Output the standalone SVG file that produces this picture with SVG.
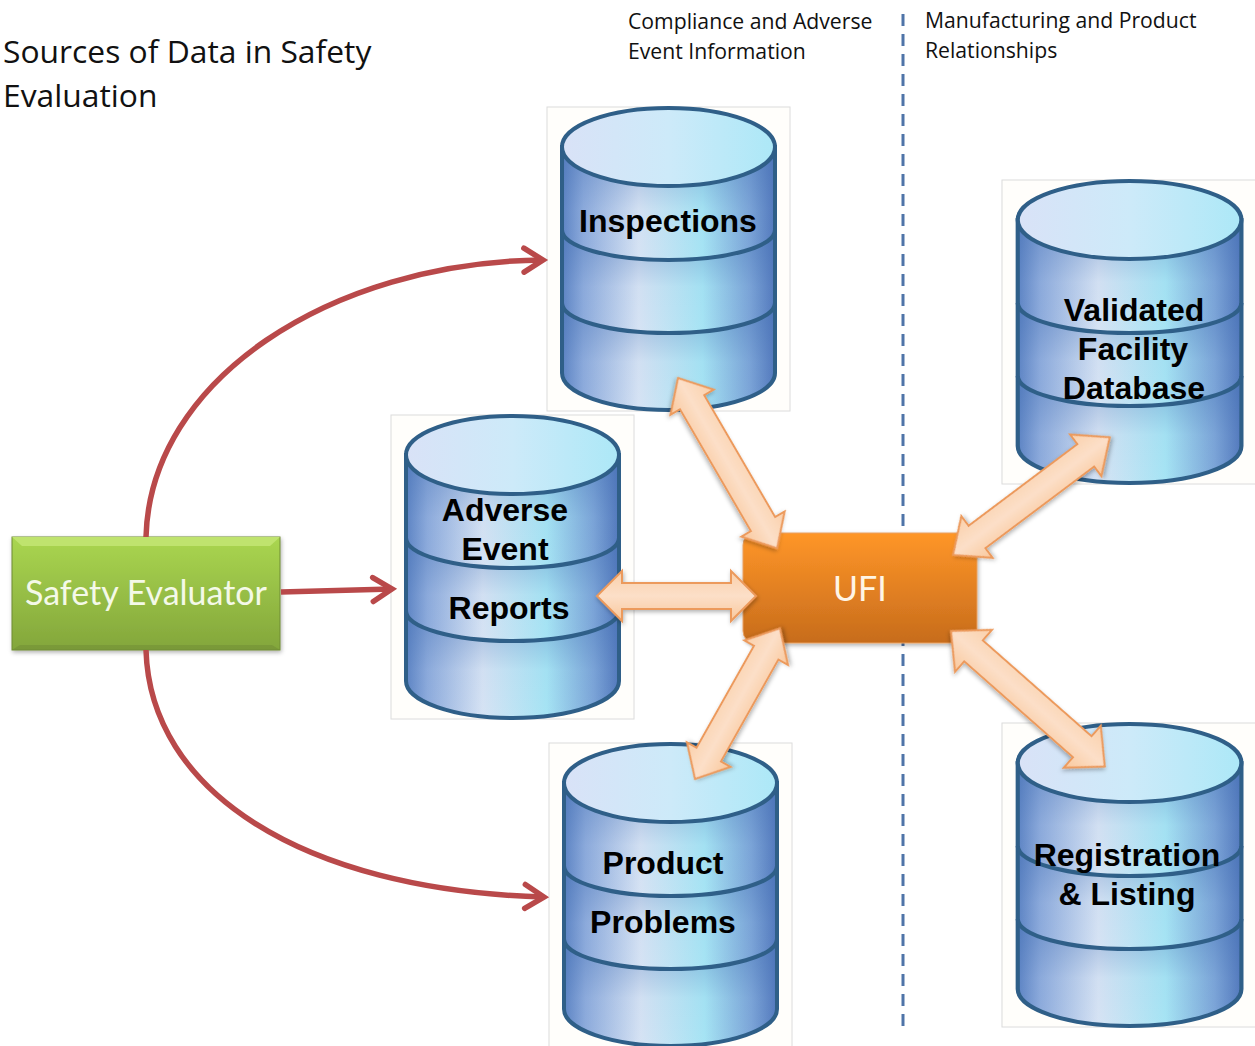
<svg xmlns="http://www.w3.org/2000/svg" width="1255" height="1046" viewBox="0 0 1255 1046">
<style>
.frame{fill:#fffefb;stroke:#dcdcdc;stroke-width:1}
.wall{stroke:#2f5f88;stroke-width:4;fill:url(#body)}
.band{fill:none;stroke:#2f5f88;stroke-width:4}
.lid{fill:url(#lid);stroke:#2f5f88;stroke-width:4}
.db{font:bold 32px "Liberation Sans",Arial,sans-serif;fill:#000;text-anchor:middle}
.head{font:31.800px "Open Sans","Noto Sans",sans-serif;fill:#111}
.note{font:21.2px "Open Sans","Noto Sans",sans-serif;fill:#111}
.box{font:34px Lato,"Open Sans",sans-serif;fill:#f4f9e8;text-anchor:middle}
.red{fill:none;stroke:#b9494a;stroke-width:5.500;marker-end:url(#open)}
.dbl{fill:url(#peach);stroke:#ec9a5c;stroke-width:2;stroke-linejoin:miter;filter:url(#sh)}
</style>
<defs>
<linearGradient id="body" x1="0" x2="1" y1="0" y2="0">
<stop offset="0" stop-color="#5d84c4"/><stop offset=".1" stop-color="#8dabdc"/><stop offset=".36" stop-color="#d6e3f4"/><stop offset=".66" stop-color="#a6e4f4"/><stop offset=".88" stop-color="#7ca5d8"/><stop offset="1" stop-color="#5379bd"/>
</linearGradient>
<linearGradient id="lid" x1="0" x2="1" y1="0" y2="0">
<stop offset="0" stop-color="#d9e2f7"/><stop offset=".5" stop-color="#cdeaf9"/><stop offset="1" stop-color="#ace8f7"/>
</linearGradient>
<linearGradient id="shade" x1="0" x2="0" y1="0" y2="1">
<stop offset="0" stop-color="#3f6bb0" stop-opacity=".42"/><stop offset=".55" stop-color="#3f6bb0" stop-opacity=".03"/><stop offset="1" stop-color="#3f6bb0" stop-opacity="0"/>
</linearGradient>
<linearGradient id="peach" x1="0" x2="0" y1="0" y2="1">
<stop offset="0" stop-color="#fad0aa"/><stop offset=".5" stop-color="#fcdfc8"/><stop offset="1" stop-color="#f9c89c"/>
</linearGradient>
<linearGradient id="orange" x1="0" x2="0" y1="0" y2="1">
<stop offset="0" stop-color="#ff9628"/><stop offset="1" stop-color="#c76c1c"/>
</linearGradient>
<linearGradient id="green" x1="0" x2="0" y1="0" y2="1">
<stop offset="0" stop-color="#aad650"/><stop offset="1" stop-color="#83a63b"/>
</linearGradient>
<filter id="sh" x="-20%" y="-20%" width="140%" height="140%"><feDropShadow dx="1" dy="2" stdDeviation="2" flood-color="#000" flood-opacity=".3"/></filter>
<marker id="open" markerUnits="userSpaceOnUse" markerWidth="34" markerHeight="34" refX="26" refY="17" orient="auto">
<path d="M7 5L26 17L7 29" fill="none" stroke="#b9494a" stroke-width="5.500" stroke-linecap="round"/>
</marker>
<g id="cyl">
<rect class="frame" x="0" y="0" width="243" height="304"/>
<path class="wall" d="M15 40V266A106.500 37 0 0 0 228 266V40Z"/>
<path fill="url(#shade)" d="M17 123A104.500 30 0 0 0 226 123V196A104.500 30 0 0 1 17 196Z"/>
<path fill="url(#shade)" d="M17 196A104.500 30 0 0 0 226 196V266A104.500 37 0 0 1 17 266Z"/>
<path fill="url(#shade)" d="M17 40A104.500 39 0 0 0 226 40V123A104.500 30 0 0 1 17 123Z"/>
<path class="band" d="M15 123A106.500 30 0 0 0 228 123M15 196A106.500 30 0 0 0 228 196"/>
<ellipse class="lid" cx="121.500" cy="40" rx="106.500" ry="39"/>
</g>
</defs>
<rect width="1255" height="1046" fill="#fff"/>
<path id="divider" d="M903 8V1026" fill="none" stroke="#4f74a8" stroke-width="3" stroke-dasharray="12 8" stroke-dashoffset="14"/>
<g id="title"><text class="head" x="3" y="63">Sources of Data in Safety</text><text class="head" x="3" y="107">Evaluation</text></g>
<g id="note-left"><text class="note" x="628" y="29">Compliance and Adverse</text><text class="note" x="628" y="59">Event Information</text></g>
<g id="note-right"><text class="note" x="925" y="28">Manufacturing and Product</text><text class="note" x="925" y="58">Relationships</text></g>
<g id="inspections"><use href="#cyl" transform="translate(547 107)"/><text class="db" x="668" y="232">Inspections</text></g>
<g id="adverse-event-reports"><use href="#cyl" transform="translate(391 415)"/><text class="db" x="505" y="521">Adverse</text><text class="db" x="505" y="560">Event</text><text class="db" x="509" y="619">Reports</text></g>
<g id="product-problems"><use href="#cyl" transform="translate(549 743)"/><text class="db" x="663" y="874">Product</text><text class="db" x="663" y="933">Problems</text></g>
<g id="validated-facility-database"><use href="#cyl" transform="translate(1002 180) scale(1.05 1)"/><text class="db" x="1134" y="321">Validated</text><text class="db" x="1133" y="360">Facility</text><text class="db" x="1134" y="399">Database</text></g>
<g id="registration-listing"><use href="#cyl" transform="translate(1002 723) scale(1.05 1)"/><text class="db" x="1127" y="866">Registration</text><text class="db" x="1127" y="905">&amp; Listing</text></g>
<g id="safety-evaluator"><rect x="12" y="537" width="268" height="113" fill="url(#green)" stroke="#6f8c35" filter="url(#sh)"/><path d="M12 537H280L270 546H22Z" fill="#bfe36e"/><path d="M12 650H280L272 645H20Z" fill="#6f8c35" opacity=".5"/><text class="box" x="146" y="605">Safety Evaluator</text></g>
<g id="ufi"><rect x="743" y="533" width="234" height="110" rx="12" fill="url(#orange)" stroke="#e8a060" filter="url(#sh)"/><text class="box" x="860" y="601" style="fill:#fff5e6">UFI</text></g>
<g id="connectors">
<path class="red" d="M146 537C150 380 330 262 543 260"/>
<path class="red" d="M281 592L392 589"/>
<path class="red" d="M146 650C150 790 300 890 544 897"/>
<path class="dbl" transform="translate(678 378) rotate(59.800)" d="M0 0L28 -25V-14H169V-25L197 0L169 25V14H28V25Z"/>
<path class="dbl" transform="translate(597 596)" d="M0 0L25 -25V-13H134V-25L159 0L134 25V13H25V25Z"/>
<path class="dbl" transform="translate(695 779) rotate(-60.600)" d="M0 0L28 -25V-14H145V-25L173 0L145 25V14H28V25Z"/>
<path class="dbl" transform="translate(953 555) rotate(-36.900)" d="M0 0L30 -26V-14H166V-26L196 0L166 26V14H30V26Z"/>
<path class="dbl" transform="translate(951 631) rotate(41.400)" d="M0 0L30 -28V-14H175V-28L205 0L175 28V14H30V28Z"/>
</g>
</svg>
